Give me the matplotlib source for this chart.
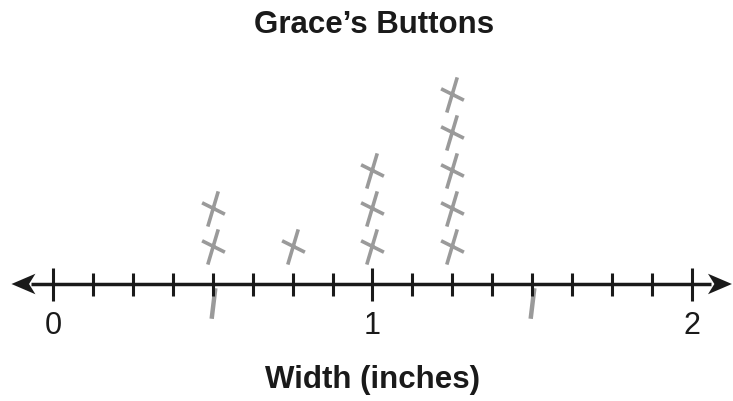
import numpy as np
import matplotlib
matplotlib.use("Agg")
import matplotlib.pyplot as plt
from matplotlib.path import Path

# data: button widths (inches) and how many X's sit over each
widths = [0.5, 0.75, 1.0, 1.25]
counts = [2, 1, 3, 5]
pencil_marks = [0.5, 1.5]  # stray pencil strokes under the line
tick_vals = np.arange(0, 2.001, 0.125)
tick_labels = {0: "0", 1: "1", 2: "2"}
title = "Grace\u2019s Buttons"
xlabel = "Width (inches)"

plt.rcParams['font.family'] = ['Liberation Sans', 'DejaVu Sans']

fig = plt.figure(figsize=(7.33, 4.01), dpi=100)
ax = fig.add_axes([0, 0, 1, 1])
ax.set_xlim(-53 / 319.5, 680 / 319.5)
ax.set_ylim(-117 / 38, 284 / 38)
ax.axis('off')

# number line
ax.plot([-0.07, 2.06], [0, 0], color='#1a1a1a', lw=2.5, solid_capstyle='butt', zorder=3)
ax.fill([-0.13, -0.055, -0.075, -0.055], [0, 0.27, 0, -0.27], color='#1a1a1a', lw=0, zorder=3)
ax.fill([2.125, 2.05, 2.07, 2.05], [0, 0.27, 0, -0.27], color='#1a1a1a', lw=0, zorder=3)

for v in tick_vals:
    if abs(v - round(v)) < 1e-9:
        ax.vlines(v, -0.45, 0.42, color='#1a1a1a', lw=2.2, zorder=3)
        ax.text(v, -1.1, tick_labels[int(round(v))], ha='center', va='center', fontsize=22, color='#1a1a1a')
    else:
        ax.vlines(v, -0.32, 0.29, color='#1a1a1a', lw=2.2, zorder=3)

# hand drawn X mark
xmark = Path([(-0.3, -0.95), (0.25, 0.9), (-0.6, 0.3), (0.6, -0.3)],
             [Path.MOVETO, Path.LINETO, Path.MOVETO, Path.LINETO])
for w, c in zip(widths, counts):
    ys = np.arange(1, c + 1)
    ax.plot([w] * c, ys, linestyle='none', marker=xmark, markersize=26,
            markerfacecolor='none', markeredgecolor='#9a9a9a', markeredgewidth=2.6,
            zorder=2)

stroke = Path([(0.06, 0.5), (-0.06, -0.5)], [Path.MOVETO, Path.LINETO])
for p in pencil_marks:
    ax.plot([p], [-0.5], linestyle='none', marker=stroke, markersize=22,
            markeredgecolor='#9a9a9a', markeredgewidth=3.2, zorder=2)

ax.text(1.005, 6.82, title, ha='center', va='center', fontsize=22.5, fontweight='bold', color='#1a1a1a')
ax.text(1.0, -2.53, xlabel, ha='center', va='center', fontsize=22.5, fontweight='bold', color='#1a1a1a')

fig.savefig("out.png", dpi=100)
